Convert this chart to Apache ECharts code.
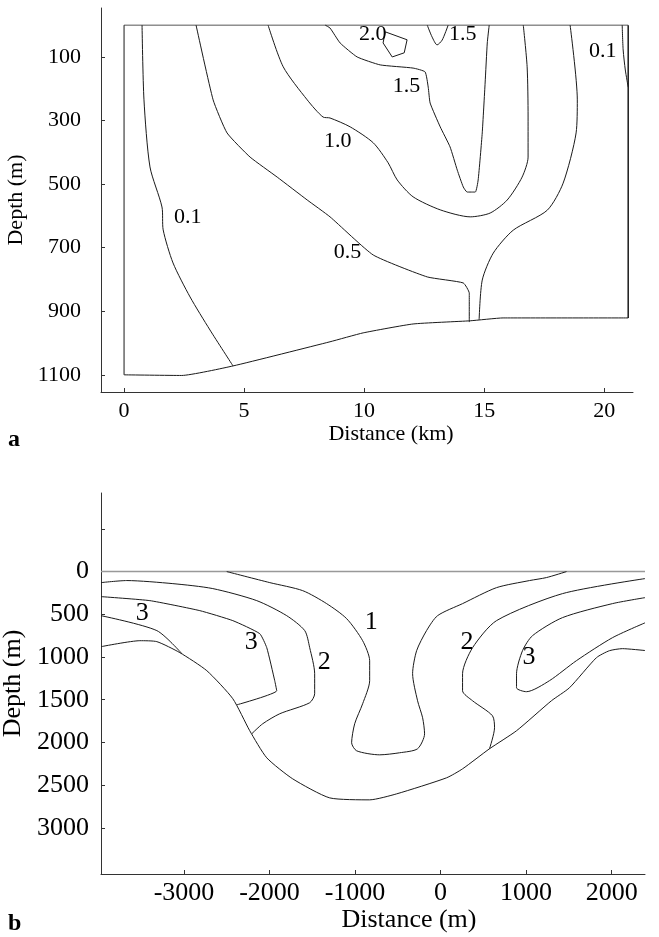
<!DOCTYPE html>
<html><head><meta charset="utf-8">
<script src="https://cdn.jsdelivr.net/npm/echarts@6/dist/echarts.min.js"></script>
<style>html,body{margin:0;padding:0;background:#fff}#c{width:659px;height:937px}</style>
</head><body><div id="c"></div>
<script>
// ---------- Panel a (Distance km, Depth m) ----------
const aXTicks = [0, 5, 10, 15, 20];
const aYTicks = [100, 300, 500, 700, 900, 1100];
const aFrameTop = [[0, 0], [21, 0]];
const aFrameLeft = [[0, 0], [0, 1100]];
const aFrameRight = [[21, 0], [21, 921]];
const aBottom = [[0, 1100], [2.4, 1102], [4.54, 1072], [8.58, 996], [9.96, 968], [12.04, 940], [14.42, 930], [15.79, 921], [21, 921]];
const aC01left = [[0.75, 0], [0.83, 235], [1.08, 446], [1.58, 572], [1.63, 644], [2.04, 748], [2.75, 855], [3.58, 959], [4.54, 1072]];
const aC05left = [[3.0, 0], [3.71, 235], [4.29, 339], [5.25, 415], [6.38, 478], [7.63, 550], [8.58, 603], [10.38, 723], [12.63, 792], [14.13, 811], [14.38, 843], [14.38, 934]];
const aC05right = [[18.58, 0], [18.88, 235], [18.83, 339], [18.29, 497], [17.63, 582], [16.21, 645], [15.38, 717], [14.92, 802], [14.79, 927]];
const aC10 = [[6.0, 0], [6.63, 131], [7.63, 235], [8.29, 289], [8.58, 292], [9.42, 320], [10.38, 370], [11.0, 433], [11.38, 487], [12.04, 540], [13.17, 581], [14.42, 603], [15.25, 591], [15.96, 550], [16.58, 478], [16.83, 415], [16.83, 289], [16.79, 131], [16.63, 0]];
const aC15 = [[8.38, 0], [8.58, 9], [9.0, 56], [9.71, 100], [10.67, 125], [12.04, 135], [12.54, 147], [12.67, 195], [12.75, 245], [13.17, 320], [13.58, 383], [13.88, 456], [14.13, 509], [14.29, 525], [14.63, 525], [14.75, 487], [14.92, 339], [15.04, 182], [15.13, 56], [15.21, 0]];
const aC15small = [[12.63, 0], [12.83, 37], [13.04, 62], [13.25, 47], [13.5, 0]];
const aC20 = [[10.88, 21], [11.79, 46], [11.67, 87], [11.17, 100], [10.79, 56], [10.88, 21]];
const aC01right = [[20.75, 0], [20.79, 78], [20.88, 141], [21.0, 195]];
const aLabelText = ['2.0', '1.5', '0.1', '1.5', '1.0', '0.1', '0.5'];
const aLabelX = [10.38, 14.13, 19.96, 11.79, 8.92, 2.67, 9.33];
const aLabelY = [31, 31, 84, 195, 368, 607, 717];

// ---------- Panel b (Distance m, Depth m) ----------
const bXTicks = [-3000, -2000, -1000, 0, 1000, 2000];
const bYTickMarks = [-500, 0, 500, 1000, 1500, 2000, 2500, 3000];
const bYTicks = [0, 500, 1000, 1500, 2000, 2500, 3000];
const bSurface = [[-3970, 0], [2390, 0]];
const bBottom = [[-3970, 879], [-3516, 809], [-3317, 820], [-3048, 949], [-2733, 1160], [-2429, 1488], [-2231, 1863], [-2032, 2180], [-1729, 2426], [-1296, 2649], [-829, 2672], [-514, 2602], [70, 2414], [257, 2309], [572, 2074], [888, 1863], [1296, 1512], [1507, 1360], [1822, 1008], [1974, 926], [2126, 902], [2390, 924]];
const bC1 = [[-2500, 0], [-1997, 129], [-1612, 223], [-1332, 375], [-1098, 551], [-911, 809], [-829, 1043], [-829, 1277], [-911, 1547], [-1004, 1781], [-1040, 2004], [-981, 2098], [-712, 2145], [-479, 2121], [-269, 2074], [-187, 1899], [-210, 1711], [-269, 1512], [-327, 1195], [-280, 926], [-164, 691], [-35, 516], [257, 375], [654, 188], [1040, 105], [1238, 70], [1472, 0]];
const bC2left = [[-3970, 129], [-3668, 105], [-3130, 141], [-2663, 199], [-2149, 340], [-1799, 516], [-1588, 691], [-1530, 891], [-1472, 1195], [-1472, 1430], [-1530, 1535], [-1880, 1664], [-2079, 1781], [-2208, 1899]];
const bC2right = [[2390, 82], [1425, 258], [654, 574], [374, 891], [257, 1195], [257, 1395], [374, 1512], [607, 1688], [631, 1828], [572, 2074]];
const bC3leftA = [[-3970, 516], [-3317, 691], [-3025, 960]];
const bC3leftB = [[-3970, 293], [-3399, 340], [-2815, 457], [-2429, 574], [-2114, 727], [-2032, 891], [-1939, 1277], [-1916, 1395], [-2383, 1560]];
const bC3right = [[2390, 305], [2009, 375], [1425, 539], [1075, 750], [958, 926], [888, 1195], [888, 1360], [1004, 1406], [1273, 1277], [1588, 1043], [2009, 774], [2390, 600]];
const bLabelText = ['3', '3', '2', '1', '2', '3'];
const bLabelX = [-3481, -2208, -1355, -806, 315, 1040];
const bLabelY = [492, 832, 1067, 598, 832, 1008];

const FONT = 'Liberation Serif';
const INK = '#000';

function lineSeries(data, gi, opts) {
  return Object.assign({
    type: 'line', xAxisIndex: gi, yAxisIndex: gi, data: data,
    showSymbol: false, symbol: 'none', smooth: 0.25, silent: true,
    lineStyle: { color: '#1a1a1a', width: 1 }, z: 3
  }, opts || {});
}
function labelSeries(xs, ys, texts, gi, size) {
  return {
    type: 'scatter', xAxisIndex: gi, yAxisIndex: gi, silent: true,
    symbolSize: 1, itemStyle: { opacity: 0 },
    data: xs.map((x, i) => [x, ys[i], texts[i]]),
    label: { show: true, position: [0, 0], align: 'center', verticalAlign: 'middle',
      formatter: p => p.data[2], fontFamily: FONT, fontSize: size, color: INK,
      textBorderWidth: 0, opacity: 1 },
    z: 5
  };
}
const plain = v => String(v);
function xAxisCfg(gi, min, max, ticks, name, size, nameGap, padLeft, labelMargin) {
  return {
    type: 'value', gridIndex: gi, min: min, max: max, name: name,
    nameLocation: 'middle', nameGap: nameGap,
    nameTextStyle: { fontFamily: FONT, fontSize: size, color: INK, padding: [0, 0, 0, padLeft] },
    axisLine: { show: true, onZero: false, lineStyle: { color: '#333', width: 1 } },
    axisTick: { show: true, inside: true, length: 4, customValues: ticks, lineStyle: { color: '#333' } },
    axisLabel: { show: true, customValues: ticks, formatter: plain, margin: labelMargin, fontFamily: FONT, fontSize: size, color: INK },
    splitLine: { show: false }
  };
}
function yAxisCfg(gi, min, max, tickMarks, ticks, name, size, nameGap, labelMargin) {
  return {
    type: 'value', gridIndex: gi, min: min, max: max, inverse: true, name: name,
    nameLocation: 'middle', nameGap: nameGap, nameRotate: 90,
    nameTextStyle: { fontFamily: FONT, fontSize: size, color: INK },
    axisLine: { show: true, onZero: false, lineStyle: { color: '#333', width: 1 } },
    axisTick: { show: true, inside: true, length: 4, customValues: tickMarks, lineStyle: { color: '#333' } },
    axisLabel: { show: true, customValues: ticks, formatter: plain, margin: labelMargin, fontFamily: FONT, fontSize: size, color: INK },
    splitLine: { show: false }
  };
}

const chart = echarts.init(document.getElementById('c'), null, { renderer: 'canvas' });
chart.setOption({
  backgroundColor: '#fff',
  animation: false,
  grid: [
    { left: 101, top: 8, width: 532, height: 384, containLabel: false, outerBoundsMode: 'none' },
    { left: 101, top: 493, width: 544, height: 381, containLabel: false, outerBoundsMode: 'none' }
  ],
  xAxis: [
    xAxisCfg(0, -0.96, 21.2, aXTicks, 'Distance (km)', 22, 30, 48, 8),
    xAxisCfg(1, -3970, 2390, bXTicks, 'Distance (m)', 26, 26, 72, 6)
  ],
  yAxis: [
    yAxisCfg(0, -54, 1154, aYTicks, aYTicks, 'Depth (m)', 22, 58, 20),
    yAxisCfg(1, -920, 3540, bYTickMarks, bYTicks, 'Depth (m)', 26, 57, 12)
  ],
  graphic: [
    { type: 'text', left: 8, top: 428, style: { text: 'a', fontFamily: FONT, fontSize: 24, fontWeight: 'bold', fill: INK } },
    { type: 'text', left: 8, top: 912, style: { text: 'b', fontFamily: FONT, fontSize: 24, fontWeight: 'bold', fill: INK } }
  ],
  series: [
    lineSeries(aFrameTop, 0, { smooth: false, lineStyle: { color: '#555', width: 1 } }),
    lineSeries(aFrameLeft, 0, { smooth: false }),
    lineSeries(aFrameRight, 0, { smooth: false, lineStyle: { color: '#1a1a1a', width: 1.5 } }),
    lineSeries(aBottom, 0, { smooth: 0.15 }),
    lineSeries(aC01left, 0),
    lineSeries(aC05left, 0, { smooth: 0.15 }),
    lineSeries(aC05right, 0),
    lineSeries(aC10, 0),
    lineSeries(aC15, 0, { smooth: 0.15 }),
    lineSeries(aC15small, 0),
    lineSeries(aC20, 0, { smooth: false }),
    lineSeries(aC01right, 0),
    labelSeries(aLabelX, aLabelY, aLabelText, 0, 22),

    lineSeries(bSurface, 1, { smooth: false, lineStyle: { color: '#999', width: 1.5 } }),
    lineSeries(bBottom, 1, { smooth: 0.2 }),
    lineSeries(bC1, 1),
    lineSeries(bC2left, 1),
    lineSeries(bC2right, 1),
    lineSeries(bC3leftA, 1),
    lineSeries(bC3leftB, 1, { smooth: 0.15 }),
    lineSeries(bC3right, 1),
    labelSeries(bLabelX, bLabelY, bLabelText, 1, 26)
  ]
});
</script>
</body></html>
